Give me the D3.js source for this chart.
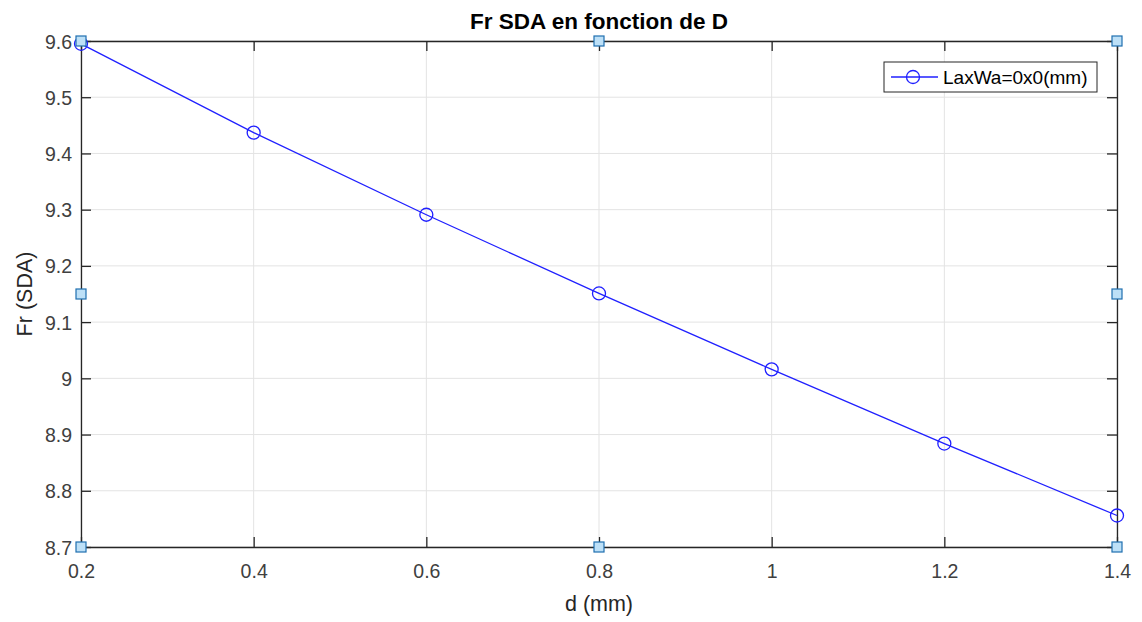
<!DOCTYPE html>
<html>
<head>
<meta charset="utf-8">
<script src="https://cdn.jsdelivr.net/npm/d3@7"></script>
<style>
  body { margin: 0; background: #fff; }
  svg { font-family: "Liberation Sans", Arial, Helvetica, sans-serif; }
</style>
</head>
<body>
<div id="chart"></div>
<script>
var dValues = [0.2, 0.4, 0.6, 0.8, 1.0, 1.2, 1.4];
var frValues = [9.595, 9.437, 9.291, 9.151, 9.016, 8.884, 8.756];
var xTicks = [0.2, 0.4, 0.6, 0.8, 1, 1.2, 1.4];
var yTicks = [8.7, 8.8, 8.9, 9, 9.1, 9.2, 9.3, 9.4, 9.5, 9.6];
var seriesName = "LaxWa=0x0(mm)";

var width = 1142,
    height = 622,
    margin = {top: 41, right: 25, bottom: 75, left: 81};

var svg = d3.select("#chart").append("svg")
    .attr("width", width)
    .attr("height", height);

var x = d3.scaleLinear()
    .domain([0.2, 1.4])
    .range([margin.left, width - margin.right]);

var y = d3.scaleLinear()
    .domain([8.7, 9.6])
    .range([height - margin.bottom, margin.top]);

var x0 = x.range()[0], x1 = x.range()[1],
    y0 = y.range()[0], y1 = y.range()[1];

// grid
svg.append("g").selectAll("line")
  .data(xTicks).enter().append("line")
    .attr("x1", d => x(d)).attr("x2", d => x(d))
    .attr("y1", y0).attr("y2", y1)
    .attr("stroke", "#e3e3e3").attr("stroke-width", 1);
svg.append("g").selectAll("line")
  .data(yTicks).enter().append("line")
    .attr("x1", x0).attr("x2", x1)
    .attr("y1", d => y(d)).attr("y2", d => y(d))
    .attr("stroke", "#e3e3e3").attr("stroke-width", 1);

// axes (ticks inward, MATLAB style)
var tickLen = 10;
var xAxis = svg.append("g")
    .attr("transform", "translate(0," + y0 + ")")
    .call(d3.axisBottom(x).tickValues(xTicks).tickSizeInner(-tickLen).tickSizeOuter(0).tickPadding(17).tickFormat(d3.format("")));
var xAxisTop = svg.append("g")
    .attr("transform", "translate(0," + y1 + ")")
    .call(d3.axisTop(x).tickValues(xTicks).tickSizeInner(-tickLen).tickSizeOuter(0).tickFormat(""));
var yAxis = svg.append("g")
    .attr("transform", "translate(" + x0 + ",0)")
    .call(d3.axisLeft(y).tickValues(yTicks).tickSizeInner(-tickLen).tickSizeOuter(0).tickPadding(9).tickFormat(d => d3.format("")(+d.toFixed(1))));
var yAxisRight = svg.append("g")
    .attr("transform", "translate(" + x1 + ",0)")
    .call(d3.axisRight(y).tickValues(yTicks).tickSizeInner(-tickLen).tickSizeOuter(0).tickFormat(""));

[xAxis, xAxisTop, yAxis, yAxisRight].forEach(function(g) {
  g.select(".domain").attr("stroke", "#262626").attr("stroke-width", 1.3);
  g.selectAll(".tick line").attr("stroke", "#262626").attr("stroke-width", 1.3);
  g.selectAll("text").attr("fill", "#404040").style("font-size", "19.5px")
    .style("font-family", "'Liberation Sans', Arial, sans-serif");
});
yAxis.selectAll("text").attr("dy", "0.36em");

// title and labels
svg.append("text")
    .attr("x", (x0 + x1) / 2).attr("y", 29)
    .attr("text-anchor", "middle")
    .attr("font-weight", "bold")
    .attr("font-size", 22.5)
    .attr("fill", "#000")
    .text("Fr SDA en fonction de D");

svg.append("text")
    .attr("x", (x0 + x1) / 2).attr("y", 611)
    .attr("text-anchor", "middle")
    .attr("font-size", 21.5)
    .attr("fill", "#262626")
    .text("d (mm)");

svg.append("text")
    .attr("transform", "translate(32," + ((y0 + y1) / 2) + ") rotate(-90)")
    .attr("text-anchor", "middle")
    .attr("font-size", 21.5)
    .attr("fill", "#262626")
    .text("Fr (SDA)");

// series
var line = d3.line()
    .x((d, i) => x(dValues[i]))
    .y(d => y(d));

svg.append("path")
    .datum(frValues)
    .attr("fill", "none")
    .attr("stroke", "#2020ff")
    .attr("stroke-width", 1.3)
    .attr("d", line);

svg.append("g").selectAll("circle")
  .data(frValues).enter().append("circle")
    .attr("cx", (d, i) => x(dValues[i]))
    .attr("cy", d => y(d))
    .attr("r", 6.5)
    .attr("fill", "none")
    .attr("stroke", "#2020ff")
    .attr("stroke-width", 1.3);

// legend
var lg = svg.append("g").attr("transform", "translate(884,62)");
lg.append("rect")
    .attr("width", 213).attr("height", 30)
    .attr("fill", "#fff").attr("stroke", "#262626").attr("stroke-width", 1);
lg.append("line")
    .attr("x1", 7).attr("x2", 54).attr("y1", 15).attr("y2", 15)
    .attr("stroke", "#2020ff").attr("stroke-width", 1.3);
lg.append("circle")
    .attr("cx", 29).attr("cy", 15).attr("r", 6.5)
    .attr("fill", "none").attr("stroke", "#2020ff").attr("stroke-width", 1.3);
lg.append("text")
    .attr("x", 59).attr("y", 22)
    .attr("font-size", 19)
    .attr("fill", "#000")
    .text(seriesName);

// selection handles (axes selected in figure editor)
var hx = [x0, (x0 + x1) / 2, x1],
    hy = [y1, (y0 + y1) / 2, y0];
var handles = [];
hx.forEach(function(px, i) {
  hy.forEach(function(py, j) {
    if (i === 1 && j === 1) return;
    handles.push([px, py]);
  });
});
svg.append("g").selectAll("rect")
  .data(handles).enter().append("rect")
    .attr("x", d => d[0] - 5).attr("y", d => d[1] - 5)
    .attr("width", 10).attr("height", 10)
    .attr("fill", "#bde0f7")
    .attr("stroke", "#1f6fb0")
    .attr("stroke-width", 1.2);
</script>
</body>
</html>
